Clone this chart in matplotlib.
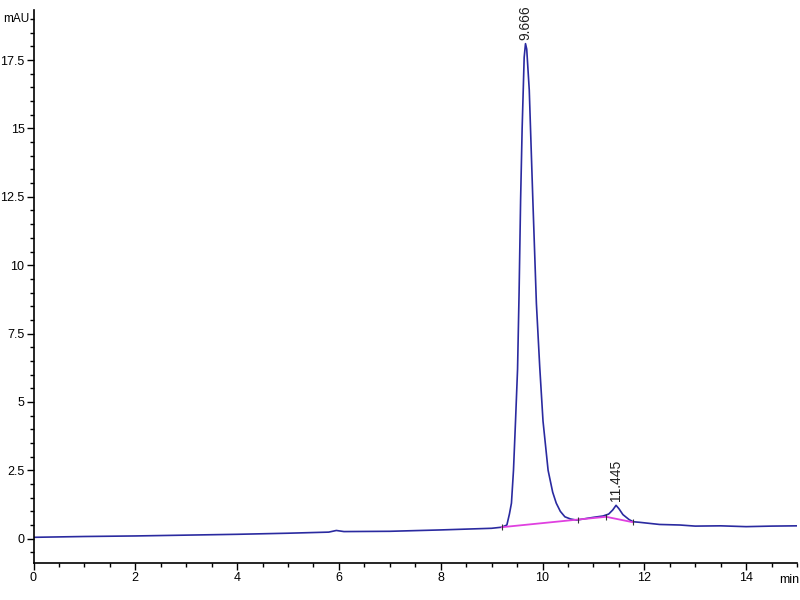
import numpy as np
import matplotlib
matplotlib.use("Agg")
import matplotlib.pyplot as plt
from matplotlib.ticker import MultipleLocator
from matplotlib.transforms import blended_transform_factory

# signal (min, mAU)
t = [0, 1, 2, 3, 4, 5, 5.8, 5.95, 6.1, 7, 8, 8.5, 9.0, 9.2, 9.3, 9.35, 9.39,
     9.43, 9.47, 9.51, 9.54, 9.57, 9.60, 9.64, 9.666, 9.69, 9.74, 9.81, 9.88,
     9.945, 10.01, 10.11, 10.2, 10.27, 10.35, 10.44, 10.55, 10.67, 10.8, 11.0,
     11.19, 11.3, 11.38, 11.445, 11.5, 11.58, 11.7, 11.78, 11.9, 12.3, 12.7,
     13.0, 13.5, 14.0, 14.5, 15.0]
signal = [0.05, 0.08, 0.1, 0.13, 0.16, 0.2, 0.24, 0.3, 0.26, 0.27, 0.32, 0.35,
          0.38, 0.42, 0.5, 0.9, 1.3, 2.5, 4.3, 6.2, 9.0, 12.4, 15.0, 17.6, 18.1,
          17.9, 16.4, 12.4, 8.6, 6.3, 4.3, 2.5, 1.7, 1.3, 1.0, 0.8, 0.72, 0.68,
          0.72, 0.78, 0.83, 0.9, 1.05, 1.22, 1.1, 0.88, 0.7, 0.62, 0.6, 0.52,
          0.5, 0.46, 0.47, 0.44, 0.46, 0.47]

# integration baseline (magenta)
base_t = [9.2, 10.7, 11.25, 11.78]
base_y = [0.42, 0.7, 0.8, 0.6]

peak_t = [9.666, 11.445]
peak_h = [18.1, 1.22]
peak_lbl = ["9.666", "11.445"]

plt.rcParams['font.family'] = ['Liberation Sans', 'DejaVu Sans']

fig = plt.figure(figsize=(8, 6), dpi=100)
ax = fig.add_axes([33.5 / 800, (600 - 563.3) / 600, (797 - 33.5) / 800, (563.3 - 10) / 600])

ax.plot(t, signal, color='#2a2aa0', lw=1.2)
ax.plot(base_t, base_y, color='#e040e0', lw=1.3)
ax.plot(base_t, base_y, ls='none', marker='|', ms=5, color='#333333', mew=0.8)

for x, h, s in zip(peak_t, peak_h, peak_lbl):
    ax.text(x, h + 0.15, s, rotation=90, ha='center', va='bottom', fontsize=10, color='#222222')

ax.set_xlim(0, 15)
ax.set_ylim(-0.9, 19.33)

ax.set_xticks([0, 2, 4, 6, 8, 10, 12, 14])
ax.xaxis.set_minor_locator(MultipleLocator(0.5))
ax.set_yticks([0, 2.5, 5, 7.5, 10, 12.5, 15, 17.5])
ax.set_yticklabels(['0', '2.5', '5', '7.5', '10', '12.5', '15', '17.5'])
ax.yaxis.set_minor_locator(MultipleLocator(0.5))

# axis unit labels
ax.text(3 / 800, 19.0, 'mAU', transform=blended_transform_factory(fig.transFigure, ax.transData),
        fontsize=8.5, ha='left', va='center')
ax.text(799 / 800, -1.3, 'min', transform=blended_transform_factory(fig.transFigure, ax.transData),
        fontsize=9, ha='right', va='top')

ax.tick_params(which='major', direction='out', length=5, width=1, labelsize=9, pad=1.5)
ax.tick_params(which='minor', direction='out', length=3, width=1)

for side in ['top', 'right']:
    ax.spines[side].set_visible(False)
for side in ['left', 'bottom']:
    ax.spines[side].set_linewidth(1.2)

fig.savefig('out.png', dpi=100)
